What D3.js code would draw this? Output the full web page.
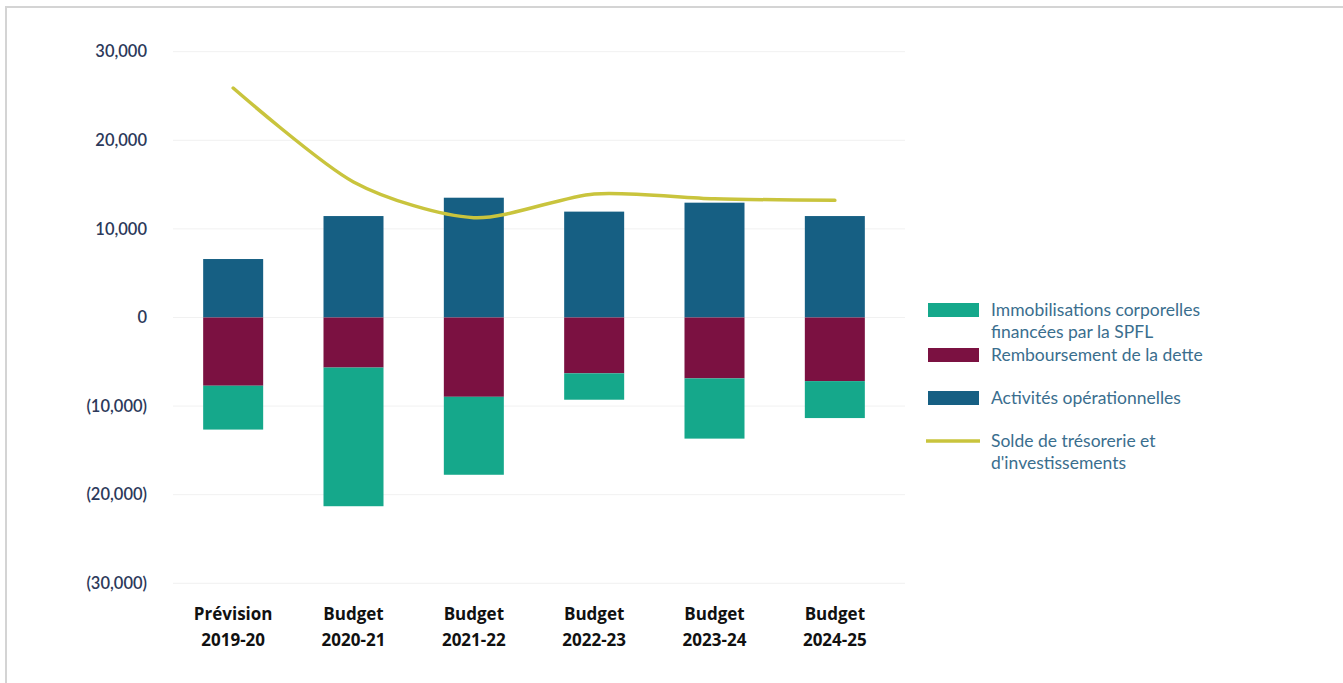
<!DOCTYPE html>
<html lang="fr">
<head>
<meta charset="utf-8">
<script src="https://cdn.jsdelivr.net/npm/d3@7"></script>
<style>
  html, body { margin: 0; padding: 0; background: #ffffff; }
  svg { display: block; }
</style>
</head>
<body>
<svg id="chart" width="1343" height="683"></svg>
<script>
// Catégories (deux lignes par étiquette)
const categories = ["2019-20", "2020-21", "2021-22", "2022-23", "2023-24", "2024-25"];
const categoryPrefix = ["Prévision", "Budget", "Budget", "Budget", "Budget", "Budget"];

// Séries (en milliers de dollars)
const activitesOperationnelles = [6600, 11450, 13520, 11950, 12960, 11450];
const remboursementDette = [-7700, -5650, -8950, -6300, -6870, -7180];
const immobilisationsSPFL = [-4950, -15650, -8800, -2980, -6800, -4170];
const soldeTresorerie = [25900, 15300, 11270, 13950, 13400, 13220];

// Graduations de l'axe vertical
const yTicks = [30000, 20000, 10000, 0, -10000, -20000, -30000];

// Libellés de la légende
const legendLabels = [
  ["Immobilisations corporelles", "financées par la SPFL"],
  ["Remboursement de la dette"],
  ["Activités opérationnelles"],
  ["Solde de trésorerie et", "d'investissements"]
];

const colors = {
  immo: "#15a88b",
  dette: "#7b1141",
  activites: "#165f83",
  solde: "#c9c43d"
};

const svg = d3.select("#chart");

// Cadre
svg.append("line").attr("x1", 5).attr("x2", 1343).attr("y1", 7).attr("y2", 7)
  .attr("stroke", "#d4d4d4").attr("stroke-width", 2);
svg.append("line").attr("x1", 6).attr("x2", 6).attr("y1", 6).attr("y2", 683)
  .attr("stroke", "#d4d4d4").attr("stroke-width", 2);

const x = d3.scaleBand()
  .domain(categories)
  .range([173, 895])
  .paddingInner(0.5)
  .paddingOuter(0.25);

const y = d3.scaleLinear()
  .domain([-30000, 30000])
  .range([583.3, 51.7]);

// Quadrillage
svg.append("g")
  .selectAll("line")
  .data(yTicks)
  .join("line")
  .attr("x1", 173)
  .attr("x2", 905)
  .attr("y1", d => y(d))
  .attr("y2", d => y(d))
  .attr("stroke", "#f1f1f1")
  .attr("stroke-width", 1);

// Axe vertical
const fmt = d3.format(",");
const yAxis = d3.axisLeft(y)
  .tickValues(yTicks)
  .tickSize(0)
  .tickPadding(0)
  .tickFormat(d => d < 0 ? "(" + fmt(-d) + ")" : fmt(d));

const gy = svg.append("g")
  .attr("transform", "translate(147,0)")
  .call(yAxis);
gy.select(".domain").remove();
gy.selectAll("text")
  .attr("font-family", "Lato, 'Open Sans', sans-serif")
  .attr("font-size", 16.5)
  .attr("font-weight", 600)
  .attr("fill", "#2c395a");

// Barres empilées
const rows = categories.map((c, i) => ({
  cat: c,
  activites: activitesOperationnelles[i],
  dette: remboursementDette[i],
  immo: immobilisationsSPFL[i]
}));

const keys = ["activites", "dette", "immo"];
const stacked = d3.stack()
  .keys(keys)
  .offset(d3.stackOffsetDiverging)(rows);

const barW = 60;
svg.append("g")
  .selectAll("g")
  .data(stacked)
  .join("g")
  .attr("fill", d => colors[d.key])
  .selectAll("rect")
  .data(d => d)
  .join("rect")
  .attr("x", d => x(d.data.cat) + x.bandwidth() / 2 - barW / 2)
  .attr("width", barW)
  .attr("y", d => y(Math.max(d[0], d[1])))
  .attr("height", d => Math.abs(y(d[0]) - y(d[1])));

// Courbe du solde
const line = d3.line()
  .x((d, i) => x(categories[i]) + x.bandwidth() / 2)
  .y(d => y(d))
  .curve(d3.curveCardinal.tension(0.2));

svg.append("path")
  .datum(soldeTresorerie)
  .attr("d", line)
  .attr("fill", "none")
  .attr("stroke", colors.solde)
  .attr("stroke-width", 3.5)
  .attr("stroke-linecap", "round");

// Étiquettes des catégories
const gx = svg.append("g");
categories.forEach((c, i) => {
  const cx = x(c) + x.bandwidth() / 2;
  const t = gx.append("text")
    .attr("x", cx)
    .attr("text-anchor", "middle")
    .attr("font-family", "'Liberation Sans Narrow', 'Open Sans', sans-serif")
    .attr("font-weight", 700)
    .attr("font-size", 17)
    .attr("fill", "#111111");
  t.append("tspan").attr("x", cx).attr("y", 620).text(categoryPrefix[i]);
  t.append("tspan").attr("x", cx).attr("y", 646).text(c);
});

// Légende
const legend = svg.append("g")
  .attr("font-family", "Lato, 'Open Sans', sans-serif")
  .attr("font-size", 17.5)
  .attr("fill", "#3a6e8e");

const legendItems = [
  { key: "immo", y: 310 },
  { key: "dette", y: 355 },
  { key: "activites", y: 398 },
  { key: "solde", y: 441 }
];

legendItems.forEach((it, i) => {
  if (it.key === "solde") {
    legend.append("line")
      .attr("x1", 926).attr("x2", 980)
      .attr("y1", it.y).attr("y2", it.y)
      .attr("stroke", colors.solde)
      .attr("stroke-width", 3.5);
  } else {
    legend.append("rect")
      .attr("x", 928).attr("y", it.y - 7)
      .attr("width", 51).attr("height", 14)
      .attr("fill", colors[it.key]);
  }
  const t = legend.append("text");
  legendLabels[i].forEach((ln, j) => {
    t.append("tspan")
      .attr("x", 991)
      .attr("y", it.y + 6 + j * 22)
      .text(ln);
  });
});
</script>
</body>
</html>
